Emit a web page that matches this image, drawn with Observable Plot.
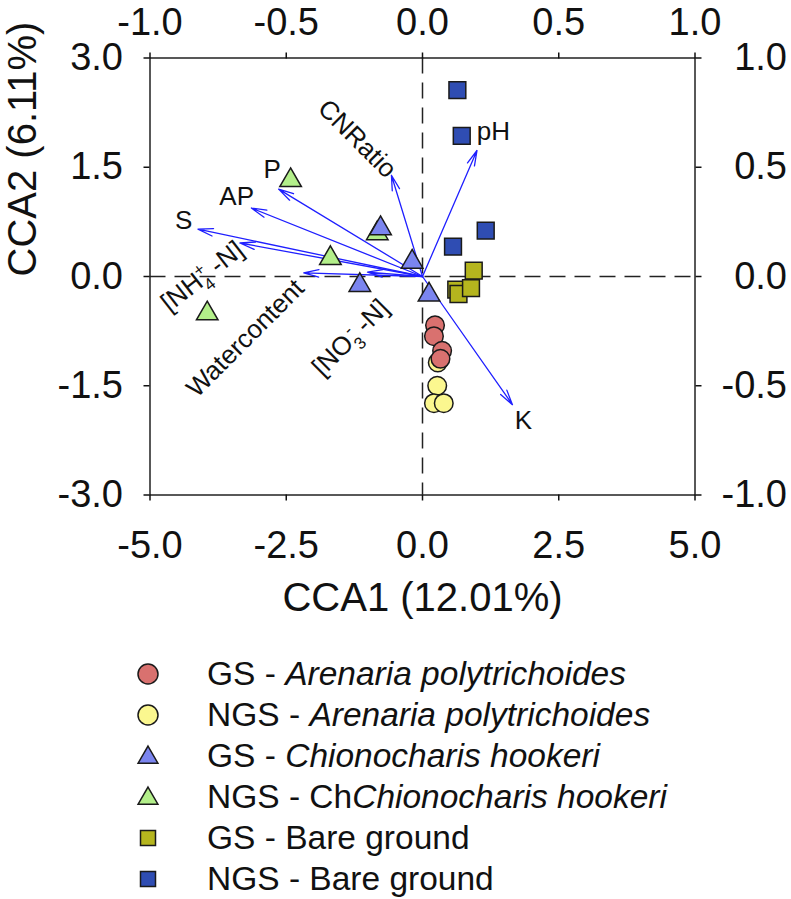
<!DOCTYPE html>
<html>
<head>
<meta charset="utf-8">
<script src="https://cdn.jsdelivr.net/npm/d3@7"></script>
<script src="https://cdn.jsdelivr.net/npm/@observablehq/plot@0.6"></script>
<style>
  html, body { margin: 0; padding: 0; background: #fff; }
  #wrap { position: relative; width: 791px; height: 899px; font-family: "Liberation Sans", Arial, sans-serif; }
  #legend { position: absolute; left: 0; top: 0; width: 791px; }
  .row { position: absolute; left: 0; height: 34px; }
  .row svg { position: absolute; left: 133px; top: 2px; }
  .row span { position: absolute; left: 207px; white-space: nowrap; font-size: 33.5px; color: #111; line-height: 34px; top: 0; }
</style>
</head>
<body>
<div id="wrap"><div id="chart"></div><div id="legend"></div></div>
<script>
// ---- data ----
const groups = ["GS - Arenaria polytrichoides", "NGS - Arenaria polytrichoides", "GS - Chionocharis hookeri", "NGS - ChChionocharis hookeri", "GS - Bare ground", "NGS - Bare ground"];

const gsArenariaX = [0.23, 0.21, 0.36, 0.33];
const gsArenariaY = [-0.67, -0.82, -1.02, -1.13];
const ngsArenariaX = [0.28, 0.27, 0.21, 0.39];
const ngsArenariaY = [-1.18, -1.50, -1.74, -1.74];
const gsChionX = [-0.77, -0.19, -1.15, 0.12];
const gsChionY = [0.66, 0.20, -0.12, -0.25];
const ngsChionX = [-2.42, -0.83, -1.69, -3.95];
const ngsChionY = [1.32, 0.59, 0.25, -0.51];
const gsBareX = [0.62, 0.66, 0.89, 0.94];
const gsBareY = [-0.18, -0.24, -0.16, 0.08];
const ngsBareX = [0.64, 0.72, 1.16, 0.56];
const ngsBareY = [2.56, 1.93, 0.63, 0.41];

// environmental vectors
const envNames = ["CNRatio", "pH", "P", "AP", "S", "[NH4+-N]", "Watercontent", "[NO3--N]", "K"];
const envX = [-0.57, 1.00, -2.64, -3.14, -4.12, -3.35, -2.18, -1.01, 1.65];
const envY = [1.39, 1.73, 1.20, 0.94, 0.65, 0.46, 0.05, 0.06, -1.76];

// axis ticks and titles
const xTicks = [-5, -2.5, 0, 2.5, 5];
const yTicks = [-3, -1.5, 0, 1.5, 3];
const topTicks = [-1, -0.5, 0, 0.5, 1];
const rightTicks = [-1, -0.5, 0, 0.5, 1];
const xTitle = "CCA1 (12.01%)";
const yTitle = "CCA2 (6.11%)";

// ---- annotation layout (label anchors in data units) ----
const labelX = [-1.20, 1.30, -2.76, -3.41, -4.38, -4.04, -3.25, -1.32, 1.85];
const labelY = [1.89, 1.99, 1.46, 1.09, 0.76, 0.00, -0.85, -0.84, -1.98];
const labelAngle = [45, 0, 0, 0, 0, -38, -45, -45, 0];

const styles = [
  {symbol: "circle", fill: "#d9716f", r: 9.3},
  {symbol: "circle", fill: "#fbf78f", r: 9.3},
  {symbol: "triangle", fill: "#7b85ef", r: 8},
  {symbol: "triangle", fill: "#b3ef8a", r: 8},
  {symbol: "square", fill: "#b5b51e", r: 9.5},
  {symbol: "square", fill: "#2f4db3", r: 9.5}
];

const series = [
  [gsArenariaX, gsArenariaY],
  [ngsArenariaX, ngsArenariaY],
  [gsChionX, gsChionY],
  [ngsChionX, ngsChionY],
  [gsBareX, gsBareY],
  [ngsBareX, ngsBareY]
];
const pts = series.map(([xs, ys], g) => xs.map((x, i) => ({x, y: ys[i], g})));
const drawOrder = [1, 0, 3, 2, 4, 5];

const env = envNames.map((n, i) => ({name: n, x: envX[i], y: envY[i]}));
const labels = envNames.map((n, i) => ({name: n, x: labelX[i], y: labelY[i], a: labelAngle[i]}));

const xPerTop = 5, yPerRight = 3;

const svg = Plot.plot({
  width: 791,
  height: 640,
  marginTop: 57.5,
  marginLeft: 149.5,
  marginRight: 96.5,
  marginBottom: 145.5,
  x: {domain: [-5, 5]},
  y: {domain: [-3, 3]},
  style: {fontFamily: "'Liberation Sans', Arial, sans-serif", fontSize: "38px", color: "#111", background: "white", overflow: "visible"},
  marks: [
    Plot.ruleX([0], {stroke: "#222", strokeWidth: 1.5, strokeDasharray: "16,9"}),
    Plot.ruleY([0], {stroke: "#222", strokeWidth: 1.5, strokeDasharray: "16,9"}),
    Plot.arrow(env, {x1: () => 0, y1: () => 0, x2: "x", y2: "y", stroke: "#1f1fff", strokeWidth: 1.3, headAngle: 28, headLength: 18}),
    Plot.text(labels, {x: "x", y: "y", text: "name", rotate: "a", fontSize: 26, fill: "#111"}),
    ...drawOrder.map(g => Plot.dot(pts[g], {x: "x", y: "y", symbol: styles[g].symbol, r: styles[g].r, fill: styles[g].fill, stroke: "#1a1a1a", strokeWidth: 1.5})),
    Plot.frame({stroke: "#222", strokeWidth: 1.5}),
    Plot.axisX(xTicks, {anchor: "bottom", tickSize: 6, tickPadding: 30, strokeWidth: 1.5, tickFormat: d => d.toFixed(1), label: null}),
    Plot.axisX(topTicks.map(v => v * xPerTop), {anchor: "top", tickSize: 6, tickPadding: 17, strokeWidth: 1.5, tickFormat: d => (d / xPerTop).toFixed(1), label: null}),
    Plot.axisY(yTicks, {anchor: "left", tickSize: 6, tickPadding: 21, strokeWidth: 1.5, tickFormat: d => d.toFixed(1), label: null}),
    Plot.axisY(rightTicks.map(v => v * yPerRight), {anchor: "right", tickSize: 6, tickPadding: 86, textAnchor: "end", strokeWidth: 1.5, tickFormat: d => (d / yPerRight).toFixed(1), label: null}),
    Plot.text([xTitle], {frameAnchor: "bottom", dy: 116, fontSize: 40, fill: "#111"}),
    Plot.text([yTitle], {frameAnchor: "left", dx: -127, rotate: -90, fontSize: 40, fill: "#111"})
  ]
});

// rich text for sub/superscripts
const NS = "http://www.w3.org/2000/svg";
function richify(node, parts) {
  while (node.firstChild) node.removeChild(node.firstChild);
  for (const p of parts) {
    const t = document.createElementNS(NS, "tspan");
    t.textContent = p.t;
    if (p.dx != null) t.setAttribute("dx", p.dx);
    if (p.dy != null) t.setAttribute("dy", p.dy);
    if (p.fs != null) t.setAttribute("font-size", p.fs);
    node.appendChild(t);
  }
}
d3.select(svg).selectAll("text").each(function() {
  if (this.textContent === "[NH4+-N]") {
    richify(this, [{t: "[NH"}, {t: "4", dy: 8, fs: 17}, {t: "+", dx: -9.5, dy: -18, fs: 17}, {t: " -N]", dy: 10}]);
  } else if (this.textContent === "[NO3--N]") {
    richify(this, [{t: "[NO"}, {t: "3", dy: 8, fs: 17}, {t: "-", dx: -7, dy: -18, fs: 17}, {t: " -N]", dy: 10}]);
  }
});

document.getElementById("chart").appendChild(svg);

// ---- legend ----
const legendCenter0 = 674, legendStep = 41;
const legendParts = [
  ["GS - ", "Arenaria polytrichoides"],
  ["NGS - ", "Arenaria polytrichoides"],
  ["GS - ", "Chionocharis hookeri"],
  ["NGS - Ch", "Chionocharis hookeri"],
  ["GS - Bare ground", ""],
  ["NGS - Bare ground", ""]
];
const symArea = {circle: Math.PI * 10 * 10, triangle: 170, square: 15 * 15};
const symType = {circle: d3.symbolCircle, triangle: d3.symbolTriangle, square: d3.symbolSquare};
const leg = d3.select("#legend");
groups.forEach((name, i) => {
  const row = leg.append("div").attr("class", "row").style("top", (legendCenter0 - 17 + i * legendStep) + "px");
  const s = row.append("svg").attr("width", 30).attr("height", 30);
  const st = styles[i];
  s.append("path")
    .attr("transform", "translate(15," + (st.symbol === "triangle" ? 16.5 : 15) + ")")
    .attr("d", d3.symbol(symType[st.symbol], symArea[st.symbol])())
    .attr("fill", st.fill).attr("stroke", "#1a1a1a").attr("stroke-width", 1.5);
  const span = row.append("span");
  span.append("tspan").text(legendParts[i][0]);
  if (legendParts[i][1]) span.append("i").text(legendParts[i][1]);
});
</script>
</body>
</html>
